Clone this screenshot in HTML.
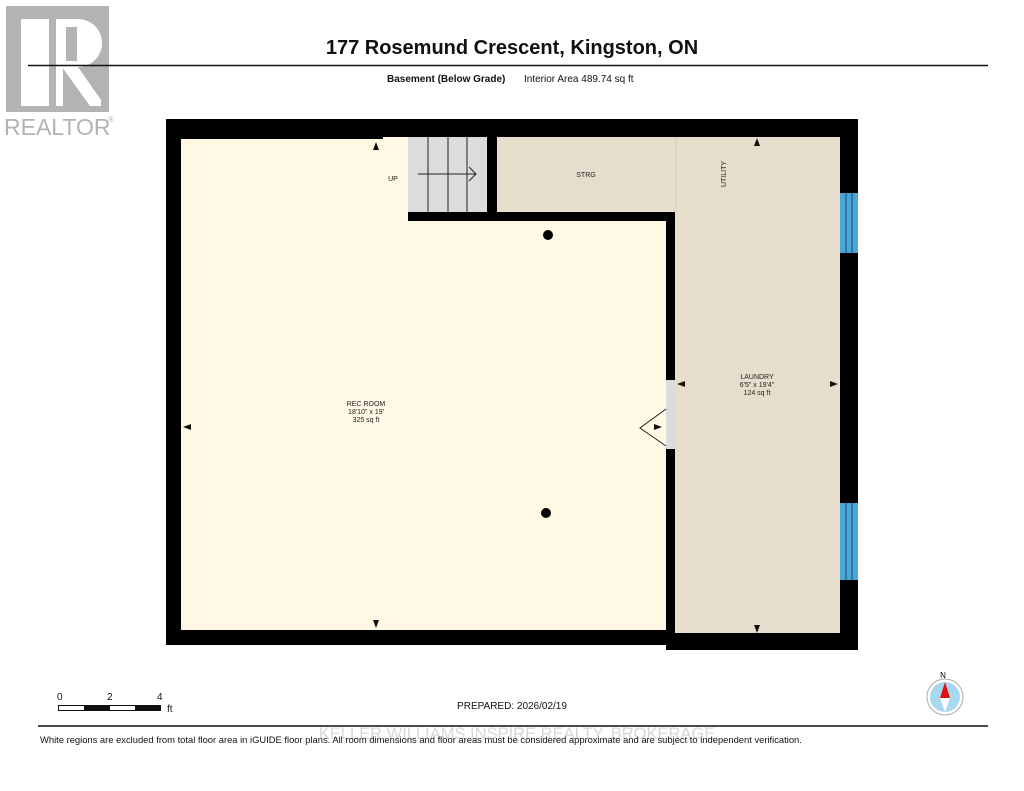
<!DOCTYPE html>
<html><head><style>
html,body{margin:0;padding:0;background:#fff;}
body{width:1024px;height:791px;overflow:hidden;position:relative;font-family:"Liberation Sans",Arial,sans-serif;}
</style></head><body>
<svg width="1024" height="791" viewBox="0 0 1024 791" xmlns="http://www.w3.org/2000/svg" style="position:absolute;left:0;top:0">
<!-- Realtor logo -->
<rect x="6" y="6" width="103" height="106" fill="#b3b3b3"/>
<rect x="21" y="19" width="28" height="87" fill="#fff"/>
<path d="M56 19 H78 A24 24 0 0 1 78 67 L101 100 V106 H90 L62 67 H56 Z" fill="#fff"/>
<rect x="56" y="19" width="7" height="87" fill="#fff"/>
<rect x="66" y="27" width="11" height="34" fill="#b3b3b3"/>
<text x="4" y="135" font-size="23" fill="#b3b3b3" font-family="Liberation Sans, sans-serif">REALTOR</text>
<text x="108" y="122" font-size="8" fill="#b3b3b3">®</text>
<!-- header -->
<text x="512" y="54" font-size="20" font-weight="bold" text-anchor="middle" fill="#111">177 Rosemund Crescent, Kingston, ON</text>
<line x1="28" y1="65.5" x2="988" y2="65.5" stroke="#111" stroke-width="1.5"/>
<text x="387" y="82" font-size="10" font-weight="bold" fill="#111">Basement (Below Grade)</text>
<text x="524" y="82" font-size="10" fill="#111">Interior Area 489.74 sq ft</text>
<!-- plan -->
<rect x="166" y="119" width="692" height="526" fill="#000"/>
<rect x="666" y="640" width="192" height="10" fill="#000"/>
<rect x="181" y="139" width="485" height="491" fill="#fff8e5"/>
<rect x="383" y="137" width="25" height="10" fill="#fff8e5"/>
<rect x="497" y="137" width="343" height="75" fill="#e6ddcc"/>
<rect x="675" y="137" width="165" height="496" fill="#e6ddcc"/>
<line x1="676" y1="137" x2="676" y2="212" stroke="#d8cdb8" stroke-width="1"/>
<rect x="408" y="137" width="79" height="75" fill="#dcdcdc"/>
<!-- interior walls -->
<rect x="487" y="137" width="10" height="84" fill="#000"/>
<rect x="408" y="212" width="267" height="9" fill="#000"/>
<rect x="666" y="212" width="9" height="421" fill="#000"/>
<g stroke="#222" stroke-width="1"><line x1="428" y1="137" x2="428" y2="212"/><line x1="448" y1="137" x2="448" y2="212"/><line x1="467" y1="137" x2="467" y2="212"/>
<line x1="418" y1="174" x2="476" y2="174"/><polyline points="469,167 476,174 469,181" fill="none"/></g>
<rect x="666" y="380" width="9" height="69" fill="#dcdcdc"/>
<polyline points="666,409 640,428 666,446" fill="none" stroke="#222" stroke-width="1"/>
<rect x="840" y="193" width="18" height="60" fill="#4aa6d8"/>
<rect x="840" y="503" width="18" height="77" fill="#4aa6d8"/>
<g stroke="#1a4a66" stroke-width="1"><line x1="846" y1="193" x2="846" y2="253"/><line x1="852" y1="193" x2="852" y2="253"/><line x1="846" y1="503" x2="846" y2="580"/><line x1="852" y1="503" x2="852" y2="580"/></g>
<circle cx="548" cy="235" r="5" fill="#000"/>
<circle cx="546" cy="513" r="5" fill="#000"/>
<!-- arrows -->
<g fill="#111">
<path d="M376 142 l-3 8 h6 z"/><path d="M757 138 l-3 8 h6 z"/>
<path d="M376 628 l-3 -8 h6 z"/><path d="M757 633 l-3 -8 h6 z"/>
<path d="M183 427 l8 -3 v6 z"/><path d="M677 384 l8 -3 v6 z"/>
<path d="M838 384 l-8 -3 v6 z"/><path d="M662 427 l-8 -3 v6 z"/>
</g>
<g font-size="7" fill="#222" text-anchor="middle">
<text x="393" y="181">UP</text><text x="586" y="177">STRG</text>
<text x="726" y="174" transform="rotate(-90 726 174)">UTILITY</text>
<text x="366" y="406">REC ROOM</text><text x="366" y="414">18'10" x 19'</text><text x="366" y="422">325 sq ft</text>
<text x="757" y="379">LAUNDRY</text><text x="757" y="387">6'5" x 19'4"</text><text x="757" y="395">124 sq ft</text>
</g>
<!-- scale -->
<g font-size="10" fill="#111"><text x="57" y="700">0</text><text x="107" y="700">2</text><text x="157" y="700">4</text><text x="167" y="712">ft</text></g>
<rect x="58.5" y="705.5" width="102" height="5" fill="#fff" stroke="#111"/>
<rect x="84" y="705" width="26" height="6" fill="#111"/><rect x="135" y="705" width="26" height="6" fill="#111"/>
<text x="512" y="709" font-size="10" text-anchor="middle" fill="#111">PREPARED: 2026/02/19</text>
<!-- compass -->
<text x="943" y="678" font-size="8" text-anchor="middle">N</text>
<circle cx="945" cy="697" r="18" fill="#fff" stroke="#aaa"/>
<circle cx="945" cy="697" r="15" fill="#a8d8ee"/>
<path d="M945 682 l-5 16 h10 z" fill="#dd1111"/>
<path d="M945 712 l-5 -14 h10 z" fill="#fff"/>
<line x1="38" y1="726" x2="988" y2="726" stroke="#111" stroke-width="1.5"/>
<text x="517" y="739" font-size="16.5" text-anchor="middle" fill="#d8d8d8">KELLER WILLIAMS INSPIRE REALTY, BROKERAGE</text>
<text x="40" y="743" font-size="9.4" fill="#111">White regions are excluded from total floor area in iGUIDE floor plans. All room dimensions and floor areas must be considered approximate and are subject to independent verification.</text>
</svg>
</body></html>
